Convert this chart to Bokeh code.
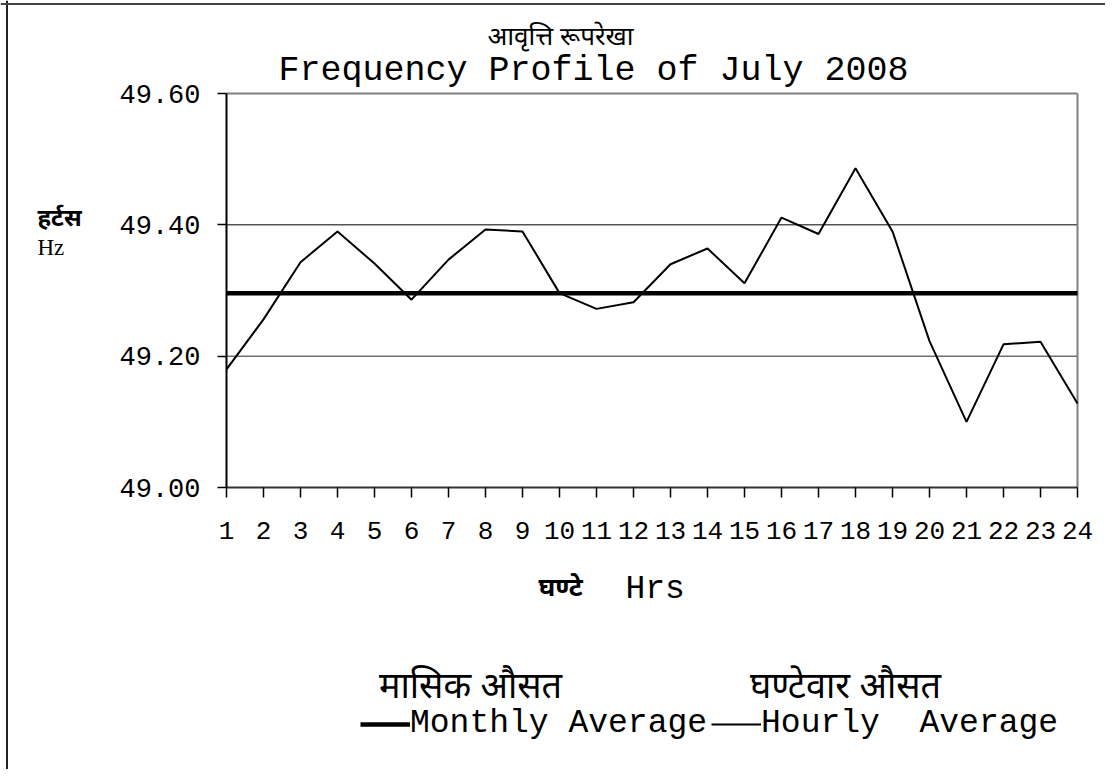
from bokeh.plotting import figure
from bokeh.models import (Range1d, FixedTicker, PrintfTickFormatter, Label,
                          Legend, LegendItem, Span)
from bokeh.embed import file_html
from bokeh.resources import INLINE

# ---- data ----
hours = list(range(1, 25))
hourly_avg = [49.180, 49.256, 49.343, 49.390, 49.341, 49.286, 49.347, 49.393,
              49.390, 49.296, 49.272, 49.282, 49.340, 49.364, 49.311, 49.411,
              49.386, 49.486, 49.390, 49.223, 49.100, 49.218, 49.222, 49.128]
monthly_value = 49.296
monthly_avg = [monthly_value] * len(hours)
y_ticks = [49.0, 49.2, 49.4, 49.6]

title_hi = "आवृत्ति रूपरेखा"
title_en = "Frequency Profile of July 2008"
ylabel_hi = "हर्टस"
ylabel_en = "Hz"
xlabel_hi = "घण्टे"
xlabel_en = "Hrs"
legend_hi = ["मासिक औसत", "घण्टेवार औसत"]
legend_en = ["Monthly Average", "Hourly\u00a0 Average"]

MONO = "Liberation Mono"
DEVA = "Noto Sans"

# ---- layout (canvas pixels) ----
W, H = 1105, 769
AREA_L, AREA_R, AREA_T, AREA_B = 226, 1077, 93, 487
XMIN, XMAX = hours[0], hours[-1]
YMIN, YMAX = y_ticks[0], y_ticks[-1]
sx = (AREA_R - AREA_L) / (XMAX - XMIN)
sy = (AREA_B - AREA_T) / (YMAX - YMIN)

def px2x(px):
    return XMIN + (px - AREA_L) / sx

def py2y(py):
    return YMIN + (AREA_B - py) / sy

p = figure(width=W, height=H, output_backend="svg", toolbar_location=None,
           title_location=None,
           x_range=Range1d(px2x(0), px2x(W)), y_range=Range1d(py2y(H), py2y(0)),
           min_border=0, min_border_left=0, min_border_right=0,
           min_border_top=0, min_border_bottom=0)

p.background_fill_color = "white"
p.border_fill_color = "white"
p.outline_line_color = None
p.xgrid.grid_line_color = None
p.ygrid.grid_line_color = None

# axes drawn at fixed data locations
p.xaxis.fixed_location = YMIN
p.xaxis.bounds = (XMIN, XMAX)
p.yaxis.fixed_location = XMIN
p.yaxis.bounds = (YMIN, YMAX)
p.xaxis.ticker = FixedTicker(ticks=hours)
p.yaxis.ticker = FixedTicker(ticks=y_ticks)
p.yaxis.formatter = PrintfTickFormatter(format="%.2f")
for ax in (p.xaxis, p.yaxis):
    ax.major_label_text_font = MONO
    ax.major_label_text_color = "black"
    ax.axis_line_color = "black"
    ax.axis_line_width = 2
    ax.major_tick_line_color = "black"
    ax.major_tick_line_width = 1.5
    ax.major_tick_in = 0
    ax.minor_tick_line_color = None
p.xaxis.major_label_text_font_size = "26px"
p.yaxis.major_label_text_font_size = "27px"
p.xaxis.major_tick_out = 10
p.yaxis.major_tick_out = 9
p.xaxis.major_label_standoff = 24
p.yaxis.major_label_standoff = 17
p.xaxis.axis_line_color = "#333333"

# horizontal grid lines (inside the plot area only)
p.segment(x0=[XMIN], x1=[XMAX], y0=[y_ticks[2]], y1=[y_ticks[2]],
          line_color="black", line_width=1)
p.segment(x0=[XMIN], x1=[XMAX], y0=[y_ticks[1]], y1=[y_ticks[1]],
          line_color="#707070", line_width=1.5)
# plot-area border: top and right edges (gray)
p.segment(x0=[XMIN, XMAX], x1=[XMAX, XMAX], y0=[YMAX, YMIN], y1=[YMAX, YMAX],
          line_color="#808080", line_width=2)

# outer chart border (left and top edges visible)
p.add_layout(Span(location=px2x(6.5), dimension="height",
                  line_color="#222222", line_width=2))
p.add_layout(Span(location=py2y(3.5), dimension="width",
                  line_color="#444444", line_width=2))

# lines
r_month = p.line(hours, monthly_avg, line_color="black", line_width=4.5)
r_hour = p.line(hours, hourly_avg, line_color="black", line_width=2)

legend = Legend(items=[LegendItem(label=legend_en[0], renderers=[r_month]),
                       LegendItem(label=legend_en[1], renderers=[r_hour])],
                orientation="horizontal", location=(360, H - 742),
                label_text_font=MONO, label_text_font_size="33px",
                label_text_color="black",
                glyph_width=50, glyph_height=36, label_height=36,
                label_standoff=0, spacing=4, padding=0, margin=0,
                border_line_alpha=0, background_fill_alpha=0)
p.add_layout(legend, "center")

def lab(text, px, py, font, size, align="center", baseline="middle",
        style="normal"):
    p.add_layout(Label(x=px2x(px), y=py2y(py), text=text,
                       text_font=font, text_font_size=size,
                       text_font_style=style, text_align=align,
                       text_baseline=baseline, text_color="black"))

lab(title_hi, 560, 34, DEVA, "26px")
lab(title_en, 593, 70, MONO, "35px", baseline="alphabetic")
lab(ylabel_hi, 37, 216, DEVA, "24px", align="left", style="bold")
lab(ylabel_en, 37, 247, "Liberation Serif", "23px", align="left",
    baseline="alphabetic")
lab(xlabel_hi, 560, 585, DEVA, "26px", style="bold")
lab(xlabel_en, 625, 589, MONO, "33px", align="left", baseline="alphabetic")
lab(legend_hi[0], 470, 684, DEVA, "36px")
lab(legend_hi[1], 845, 684, DEVA, "36px")

open("out.html", "w").write(file_html(p, INLINE))
